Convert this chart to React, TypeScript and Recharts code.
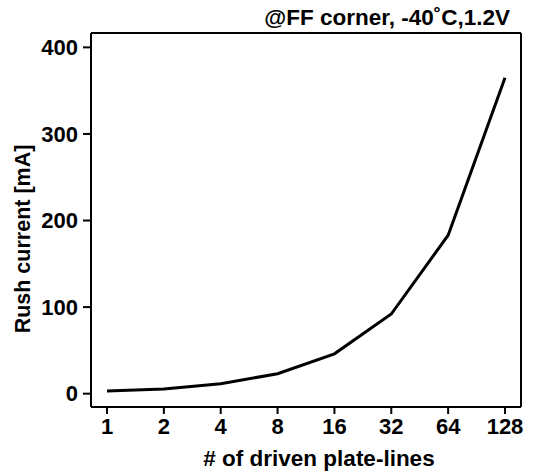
import { LineChart, Line, XAxis, YAxis } from 'recharts';

const plateLines = ['1', '2', '4', '8', '16', '32', '64', '128'];
const rushCurrent = [3, 5.5, 11.5, 23, 46, 92, 183, 365];
const yTicks = [0, 100, 200, 300, 400];

const chartData = plateLines.map((n, i) => ({ n, current: rushCurrent[i] }));

const font = '"Liberation Sans", Arial, sans-serif';

export default function App() {
  return (
    <div style={{ position: 'fixed', left: 0, top: 0, width: 535, height: 475, background: '#fff', fontFamily: font }}>
      <div
        style={{
          position: 'absolute',
          right: 25,
          top: 5,
          fontSize: 22.5,
          fontWeight: 'bold',
          lineHeight: '26px',
          color: '#000',
        }}
      >
        @FF corner, -40˚C,1.2V
      </div>
      <LineChart
        width={535}
        height={475}
        data={chartData}
        margin={{ top: 31, right: 12, left: 0, bottom: 0 }}
      >
        <XAxis
          dataKey="n"
          height={68}
          padding={{ left: 16, right: 16 }}
          stroke="#000"
          axisLine={{ stroke: '#000', strokeWidth: 2 }}
          tickLine={{ stroke: '#000', strokeWidth: 2 }}
          tickSize={7}
          tickMargin={4}
          tick={{ fill: '#000', fontSize: 22, fontWeight: 'bold', fontFamily: font }}
          label={{
            value: '# of driven plate-lines',
            position: 'insideBottom',
            offset: 9,
            dx: 13,
            fill: '#000',
            fontSize: 22.5,
            fontWeight: 'bold',
            fontFamily: font,
          }}
        />
        <XAxis
          xAxisId="top"
          dataKey="n"
          orientation="top"
          height={2}
          padding={{ left: 16, right: 16 }}
          tick={false}
          tickLine={false}
          axisLine={{ stroke: '#000', strokeWidth: 2 }}
        />
        <YAxis
          width={91}
          domain={[-15.4, 416.6]}
          ticks={yTicks}
          stroke="#000"
          axisLine={{ stroke: '#000', strokeWidth: 2 }}
          tickLine={{ stroke: '#000', strokeWidth: 2 }}
          tickSize={8}
          tickMargin={5}
          tick={{ fill: '#000', fontSize: 22, fontWeight: 'bold', fontFamily: font }}
          label={{
            value: 'Rush current [mA]',
            angle: -90,
            position: 'insideLeft',
            offset: 22,
            dy: 19,
            fill: '#000',
            fontSize: 21.5,
            fontWeight: 'bold',
            fontFamily: font,
            style: { textAnchor: 'middle' },
          }}
        />
        <YAxis
          yAxisId="right"
          orientation="right"
          width={2}
          domain={[-15.4, 416.6]}
          tick={false}
          tickLine={false}
          axisLine={{ stroke: '#000', strokeWidth: 2 }}
        />
        <Line
          dataKey="current"
          type="linear"
          stroke="#000"
          strokeWidth={3}
          dot={false}
          activeDot={false}
          isAnimationActive={false}
        />
        <Line
          dataKey="current"
          xAxisId="top"
          yAxisId="right"
          stroke="none"
          strokeOpacity={0}
          dot={false}
          activeDot={false}
          legendType="none"
          isAnimationActive={false}
        />
      </LineChart>
    </div>
  );
}
